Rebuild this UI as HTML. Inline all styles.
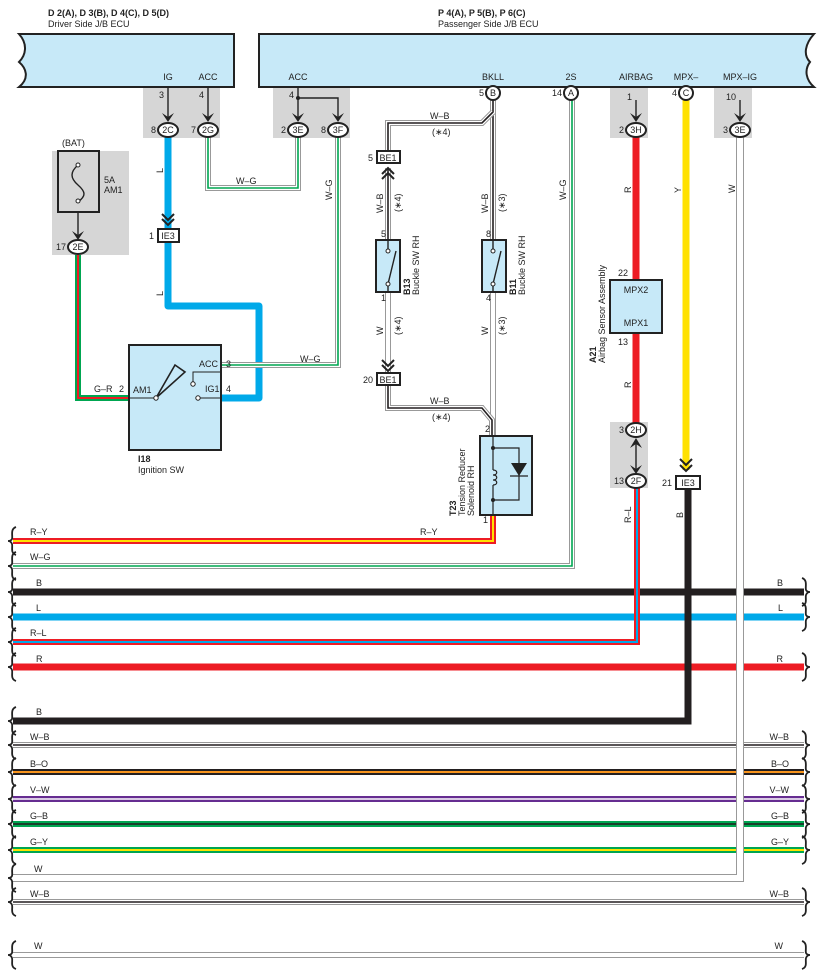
<!DOCTYPE html>
<html><head><meta charset="utf-8"><style>
html,body{margin:0;padding:0;background:#fff}
svg{display:block}
text{font-family:"Liberation Sans",sans-serif;font-size:9px;fill:#222}
.b{font-weight:bold}
</style></head><body>
<svg width="817" height="978" viewBox="0 0 817 978" xmlns="http://www.w3.org/2000/svg" fill="none">
<defs>
<path id="ry" d="M13,541 H493 V515"/>
<path id="wg" d="M13,566 H572 V100"/>
<path id="bk1" d="M13,592 H804"/>
<path id="lb" d="M13,617 H804"/>
<path id="rl" d="M13,642 H637 V488"/>
<path id="rr" d="M13,667 H804"/>
<path id="bk2" d="M13,721 H688 V488"/>
<path id="wb1" d="M13,745 H804"/>
<path id="bo" d="M13,772 H804"/>
<path id="vw" d="M13,799 H804"/>
<path id="gb" d="M13,824 H804"/>
<path id="gy" d="M13,850 H804"/>
<path id="ww" d="M13,878 H740 V137"/>
<path id="wb2" d="M13,902 H804"/>
<path id="w3" d="M13,955 H804"/>
<path id="lwire" d="M168,137 V306 H259 V398 H222"/>
<path id="wg1" d="M208,137 V188 H298 V137"/>
<path id="wg2" d="M338,137 V365 H222"/>
<path id="gr" d="M78,255 V398 H129"/>
<path id="wbm" d="M493,100 V240"/>
<path id="wm" d="M493,292 V437"/>
<path id="wbl" d="M493,112 L482,123 H388 V157"/>
<path id="wbl2" d="M388,168 V240"/>
<path id="wl" d="M388,292 V373"/>
<path id="wbl3" d="M388,385 V408 H482 L492,420 V437"/>
<path id="rA" d="M636,137 V280"/>
<path id="rB" d="M636,333 V423"/>
<path id="yy" d="M686,100 V470"/>
<path id="brL" d="M16,-14 C10,-12 13,-5 12,-2 C11,0 9,0 8,0 C9,0 11,0 12,3 C13,6 10,12 16,14"/>
</defs>

<g fill="#d6d6d6">
<rect x="143" y="87" width="77" height="51"/>
<rect x="273" y="87" width="77" height="51"/>
<rect x="610" y="87" width="38" height="51"/>
<rect x="714" y="87" width="38" height="51"/>
<rect x="610" y="422" width="38" height="66"/>
<rect x="52" y="151" width="77" height="104"/>
</g>

<path d="M19,34 H234 V87 H19 C30,78 26,68 19,62 C26,55 28,44 19,34 Z" fill="#c7e9f8" stroke="#222" stroke-width="2"/>
<path d="M259,34 H814 C805,44 803,55 810,62 C804,70 806,80 814,87 H259 Z" fill="#c7e9f8" stroke="#222" stroke-width="2"/>
<text x="48" y="16" class="b">D 2(A), D 3(B), D 4(C), D 5(D)</text>
<text x="48" y="27">Driver Side J/B ECU</text>
<text x="438" y="16" class="b">P 4(A), P 5(B), P 6(C)</text>
<text x="438" y="27">Passenger Side J/B ECU</text>
<g text-anchor="middle">
<text x="168" y="80">IG</text><text x="208" y="80">ACC</text>
<text x="298" y="80">ACC</text><text x="493" y="80">BKLL</text>
<text x="571" y="80">2S</text><text x="636" y="80">AIRBAG</text>
<text x="686" y="80">MPX–</text><text x="740" y="80">MPX–IG</text>
</g>

<use href="#ry" stroke="#ed1c24" stroke-width="6"/><use href="#ry" stroke="#ffe100" stroke-width="2"/>
<use href="#wg" stroke="#999" stroke-width="6"/><use href="#wg" stroke="#fff" stroke-width="4"/><use href="#wg" stroke="#00a651" stroke-width="1.6"/>
<use href="#bk1" stroke="#231f20" stroke-width="7"/>
<use href="#lb" stroke="#00a9e9" stroke-width="7"/>
<use href="#rl" stroke="#ed1c24" stroke-width="6"/><use href="#rl" stroke="#00a9e9" stroke-width="2"/>
<use href="#rr" stroke="#ed1c24" stroke-width="7"/>
<use href="#bk2" stroke="#231f20" stroke-width="7"/>
<use href="#wb1" stroke="#999" stroke-width="6"/><use href="#wb1" stroke="#fff" stroke-width="4"/><use href="#wb1" stroke="#231f20" stroke-width="1.6"/>
<use href="#bo" stroke="#231f20" stroke-width="6"/><use href="#bo" stroke="#f7941d" stroke-width="2"/>
<use href="#vw" stroke="#662d91" stroke-width="6"/><use href="#vw" stroke="#fff" stroke-width="1.6"/>
<use href="#gb" stroke="#00a651" stroke-width="6"/><use href="#gb" stroke="#231f20" stroke-width="1.6"/>
<use href="#gy" stroke="#00a651" stroke-width="6"/><use href="#gy" stroke="#ffe100" stroke-width="2"/>
<use href="#wb2" stroke="#999" stroke-width="6"/><use href="#wb2" stroke="#fff" stroke-width="4"/><use href="#wb2" stroke="#231f20" stroke-width="1.6"/>
<use href="#w3" stroke="#999" stroke-width="6"/><use href="#w3" stroke="#fff" stroke-width="4"/>
<use href="#ww" stroke="#999" stroke-width="8"/><use href="#ww" stroke="#fff" stroke-width="6"/>

<use href="#lwire" stroke="#00a9e9" stroke-width="7" stroke-linejoin="round"/>
<use href="#wg1" stroke="#999" stroke-width="6"/><use href="#wg1" stroke="#fff" stroke-width="4"/><use href="#wg1" stroke="#00a651" stroke-width="1.6"/>
<use href="#wg2" stroke="#999" stroke-width="6"/><use href="#wg2" stroke="#fff" stroke-width="4"/><use href="#wg2" stroke="#00a651" stroke-width="1.6"/>
<use href="#gr" stroke="#00a651" stroke-width="6"/><use href="#gr" stroke="#ed1c24" stroke-width="2"/>
<g>
<use href="#wbm" stroke="#999" stroke-width="6"/><use href="#wbm" stroke="#fff" stroke-width="4"/><use href="#wbm" stroke="#231f20" stroke-width="1.6"/>
<use href="#wm" stroke="#999" stroke-width="6"/><use href="#wm" stroke="#fff" stroke-width="4"/>
<use href="#wbl" stroke="#999" stroke-width="6"/><use href="#wbl" stroke="#fff" stroke-width="4"/><use href="#wbl" stroke="#231f20" stroke-width="1.6"/>
<use href="#wbl2" stroke="#999" stroke-width="6"/><use href="#wbl2" stroke="#fff" stroke-width="4"/><use href="#wbl2" stroke="#231f20" stroke-width="1.6"/>
<use href="#wl" stroke="#999" stroke-width="6"/><use href="#wl" stroke="#fff" stroke-width="4"/>
<use href="#wbl3" stroke="#999" stroke-width="6"/><use href="#wbl3" stroke="#fff" stroke-width="4"/><use href="#wbl3" stroke="#231f20" stroke-width="1.6"/>
</g>
<use href="#rA" stroke="#ed1c24" stroke-width="7"/>
<use href="#rB" stroke="#ed1c24" stroke-width="7"/>
<use href="#yy" stroke="#ffe100" stroke-width="7"/>

<g stroke="#222" stroke-width="1.4">
<path d="M168,87 V118"/><path d="M208,87 V118"/>
<path d="M298,87 V118"/><path d="M298,98 H338 V118"/>
<path d="M636,100 V118"/><path d="M740,100 V118"/>
<path d="M78,212 V236"/>
<path d="M636,440 V470"/>
</g>
<circle cx="298" cy="98" r="2" fill="#222"/>
<g fill="#222">
<path d="M162,113 L168,122 L174,113 L168,117 Z"/>
<path d="M202,113 L208,122 L214,113 L208,117 Z"/>
<path d="M292,113 L298,122 L304,113 L298,117 Z"/>
<path d="M332,113 L338,122 L344,113 L338,117 Z"/>
<path d="M630,113 L636,122 L642,113 L636,117 Z"/>
<path d="M734,113 L740,122 L746,113 L740,117 Z"/>
<path d="M72,231 L78,240 L84,231 L78,235 Z"/>
<path d="M630,448 L636,438 L642,448 L636,444 Z"/>
<path d="M630,465 L636,474 L642,465 L636,469 Z"/>
</g>
<g stroke="#222" stroke-width="2">
<path d="M162,214 L168,220 L174,214 M162,219 L168,225 L174,219"/>
<path d="M382,174 L388,168 L394,174 M382,179 L388,173 L394,179"/>
<path d="M382,360 L388,366 L394,360 M382,365 L388,371 L394,365"/>
<path d="M680,459 L686,465 L692,459 M680,465 L686,471 L692,465"/>
</g>

<g stroke="#222" stroke-width="2" fill="#fff">
<ellipse cx="168" cy="130" rx="10" ry="7"/><ellipse cx="208" cy="130" rx="10" ry="7"/>
<ellipse cx="298" cy="130" rx="10" ry="7"/><ellipse cx="338" cy="130" rx="10" ry="7"/>
<ellipse cx="636" cy="130" rx="10" ry="7"/><ellipse cx="740" cy="130" rx="10" ry="7"/>
<ellipse cx="78" cy="247" rx="10" ry="7"/>
<ellipse cx="636" cy="430" rx="10" ry="7"/><ellipse cx="636" cy="481" rx="10" ry="7"/>
<circle cx="493" cy="93" r="7"/><circle cx="571" cy="93" r="7"/><circle cx="686" cy="93" r="7"/>
<rect x="158" y="229" width="21" height="13"/>
<rect x="377" y="151" width="23" height="12"/>
<rect x="377" y="373" width="23" height="12"/>
<rect x="676" y="476" width="24" height="13"/>
</g>
<g text-anchor="middle">
<text x="168" y="133">2C</text><text x="208" y="133">2G</text>
<text x="298" y="133">3E</text><text x="338" y="133">3F</text>
<text x="636" y="133">3H</text><text x="740" y="133">3E</text>
<text x="78" y="250">2E</text><text x="636" y="433">2H</text><text x="636" y="484">2F</text>
<text x="493" y="96">B</text><text x="571" y="96">A</text><text x="686" y="96">C</text>
<text x="168" y="239">IE3</text><text x="388" y="161">BE1</text>
<text x="388" y="383">BE1</text><text x="688" y="486">IE3</text>
</g>
<g text-anchor="end">
<text x="156" y="133">8</text><text x="196" y="133">7</text>
<text x="286" y="133">2</text><text x="326" y="133">8</text>
<text x="624" y="133">2</text><text x="728" y="133">3</text>
<text x="66" y="250">17</text><text x="624" y="433">3</text><text x="624" y="484">13</text>
<text x="484" y="96">5</text><text x="562" y="96">14</text><text x="677" y="96">4</text>
<text x="154" y="239">1</text><text x="373" y="161">5</text><text x="373" y="383">20</text>
<text x="672" y="486">21</text>
<text x="164" y="98">3</text><text x="204" y="98">4</text><text x="294" y="98">4</text>
<text x="632" y="100">1</text><text x="736" y="100">10</text>
</g>

<text x="62" y="146">(BAT)</text>
<rect x="58" y="151" width="41" height="61" fill="none" stroke="#222" stroke-width="2"/>
<path d="M78,165 C70,172 70,178 78,185 C86,192 86,196 78,202" stroke="#222" stroke-width="1.4"/>
<circle cx="78" cy="165" r="2" fill="#fff" stroke="#222"/><circle cx="78" cy="201" r="2" fill="#fff" stroke="#222"/>
<text x="104" y="183">5A</text><text x="104" y="193">AM1</text>

<rect x="129" y="345" width="92" height="105" fill="#c7e9f8" stroke="#222" stroke-width="2"/>
<path d="M129,398 H156 M196,398 H222 M222,372 H193 V382" stroke="#222" stroke-width="1"/>
<path d="M156,398 L175,365 L185,372 Z" stroke="#222" stroke-width="1.6" fill="none"/>
<circle cx="156" cy="398" r="2.2" fill="#fff" stroke="#222"/>
<circle cx="193" cy="384" r="2.2" fill="#fff" stroke="#222"/>
<circle cx="198" cy="398" r="2.2" fill="#fff" stroke="#222"/>
<text x="133" y="393">AM1</text><text x="199" y="367">ACC</text><text x="205" y="392">IG1</text>
<text x="226" y="367">3</text><text x="226" y="392">4</text><text x="119" y="392">2</text>
<text x="94" y="392">G–R</text>
<text x="138" y="462" class="b">I18</text><text x="138" y="473">Ignition SW</text>

<g stroke="#222">
<rect x="376" y="240" width="24" height="52" fill="#c7e9f8" stroke-width="2"/>
<rect x="482" y="240" width="24" height="52" fill="#c7e9f8" stroke-width="2"/>
<path d="M388,240 V249 M388,286 V292 M388,284 L396,251" stroke-width="1.4"/>
<path d="M493,240 V249 M493,286 V292 M493,284 L501,251" stroke-width="1.4"/>
</g>
<g fill="#fff" stroke="#222"><circle cx="388" cy="251" r="2"/><circle cx="388" cy="284" r="2"/><circle cx="493" cy="251" r="2"/><circle cx="493" cy="284" r="2"/></g>
<text x="386" y="237" text-anchor="end">5</text><text x="386" y="301" text-anchor="end">1</text>
<text x="491" y="237" text-anchor="end">8</text><text x="491" y="301" text-anchor="end">4</text>
<text transform="translate(410,295) rotate(-90)" class="b">B13</text>
<text transform="translate(419,295) rotate(-90)">Buckle SW RH</text>
<text transform="translate(516,295) rotate(-90)" class="b">B11</text>
<text transform="translate(525,295) rotate(-90)">Buckle SW RH</text>

<rect x="480" y="436" width="52" height="79" fill="#c7e9f8" stroke="#222" stroke-width="2"/>
<path d="M493,436 V448 H519 V500 H493 V515 M493,448 V470 M493,485 V500" stroke="#222" stroke-width="1.2"/>
<path d="M493,470 c5,0 5,5 0,5 c5,0 5,5 0,5 c5,0 5,5 0,5" stroke="#222" stroke-width="1.2"/>
<path d="M511,463 H527 L519,476 Z" fill="#222"/><path d="M510,476 H528" stroke="#222" stroke-width="1.2"/>
<circle cx="493" cy="448" r="2" fill="#222"/><circle cx="493" cy="500" r="2" fill="#222"/>
<text x="488" y="523" text-anchor="end">1</text><text x="490" y="432" text-anchor="end">2</text>
<text transform="translate(456,516) rotate(-90)" class="b">T23</text>
<text transform="translate(465,516) rotate(-90)">Tension Reducer</text>
<text transform="translate(474,516) rotate(-90)">Solenoid RH</text>

<rect x="610" y="280" width="52" height="53" fill="#c7e9f8" stroke="#222" stroke-width="2"/>
<text x="636" y="293" text-anchor="middle">MPX2</text><text x="636" y="326" text-anchor="middle">MPX1</text>
<text x="628" y="276" text-anchor="end">22</text><text x="628" y="345" text-anchor="end">13</text>
<text transform="translate(596,363) rotate(-90)" class="b">A21</text>
<text transform="translate(605,363) rotate(-90)">Airbag Sensor Assembly</text>

<g>
<text transform="translate(163,173) rotate(-90)">L</text>
<text transform="translate(163,296) rotate(-90)">L</text>
<text transform="translate(332,200) rotate(-90)">W–G</text>
<text transform="translate(383,213) rotate(-90)">W–B</text>
<text transform="translate(401,212) rotate(-90)">(∗4)</text>
<text transform="translate(383,335) rotate(-90)">W</text>
<text transform="translate(401,335) rotate(-90)">(∗4)</text>
<text transform="translate(488,213) rotate(-90)">W–B</text>
<text transform="translate(505,212) rotate(-90)">(∗3)</text>
<text transform="translate(488,335) rotate(-90)">W</text>
<text transform="translate(505,335) rotate(-90)">(∗3)</text>
<text transform="translate(566,200) rotate(-90)">W–G</text>
<text transform="translate(631,193) rotate(-90)">R</text>
<text transform="translate(681,193) rotate(-90)">Y</text>
<text transform="translate(735,193) rotate(-90)">W</text>
<text transform="translate(631,388) rotate(-90)">R</text>
<text transform="translate(631,523) rotate(-90)">R–L</text>
<text transform="translate(683,518) rotate(-90)">B</text>
</g>
<text x="236" y="184">W–G</text>
<text x="300" y="362">W–G</text>
<text x="430" y="119">W–B</text><text x="432" y="135">(∗4)</text>
<text x="430" y="404">W–B</text><text x="432" y="420">(∗4)</text>
<text x="420" y="535">R–Y</text>

<g>
<text x="30" y="535">R–Y</text><text x="30" y="560">W–G</text><text x="36" y="586">B</text>
<text x="36" y="611">L</text><text x="30" y="636">R–L</text><text x="36" y="662">R</text>
<text x="36" y="715">B</text><text x="30" y="740">W–B</text><text x="30" y="767">B–O</text>
<text x="30" y="793">V–W</text><text x="30" y="819">G–B</text><text x="30" y="845">G–Y</text>
<text x="34" y="872">W</text><text x="30" y="897">W–B</text><text x="34" y="949">W</text>
</g>
<g text-anchor="end">
<text x="783" y="586">B</text><text x="783" y="611">L</text><text x="783" y="662">R</text>
<text x="789" y="740">W–B</text><text x="789" y="767">B–O</text><text x="789" y="793">V–W</text>
<text x="789" y="819">G–B</text><text x="789" y="845">G–Y</text><text x="789" y="897">W–B</text>
<text x="783" y="949">W</text>
</g>

<g stroke="#222" stroke-width="1.8" fill="none">
<use href="#brL" transform="translate(0,541)"/><use href="#brL" transform="translate(0,566)"/>
<use href="#brL" transform="translate(0,592)"/><use href="#brL" transform="translate(0,617)"/>
<use href="#brL" transform="translate(0,642)"/><use href="#brL" transform="translate(0,667)"/>
<use href="#brL" transform="translate(0,721)"/><use href="#brL" transform="translate(0,745)"/>
<use href="#brL" transform="translate(0,772)"/><use href="#brL" transform="translate(0,799)"/>
<use href="#brL" transform="translate(0,824)"/><use href="#brL" transform="translate(0,850)"/>
<use href="#brL" transform="translate(0,878)"/><use href="#brL" transform="translate(0,902)"/>
<use href="#brL" transform="translate(0,955)"/>
<g transform="translate(818,0) scale(-1,1)">
<use href="#brL" transform="translate(0,592)"/><use href="#brL" transform="translate(0,617)"/>
<use href="#brL" transform="translate(0,667)"/><use href="#brL" transform="translate(0,745)"/>
<use href="#brL" transform="translate(0,772)"/><use href="#brL" transform="translate(0,799)"/>
<use href="#brL" transform="translate(0,824)"/><use href="#brL" transform="translate(0,850)"/>
<use href="#brL" transform="translate(0,902)"/><use href="#brL" transform="translate(0,955)"/>
</g>
</g>
</svg>
</body></html>
